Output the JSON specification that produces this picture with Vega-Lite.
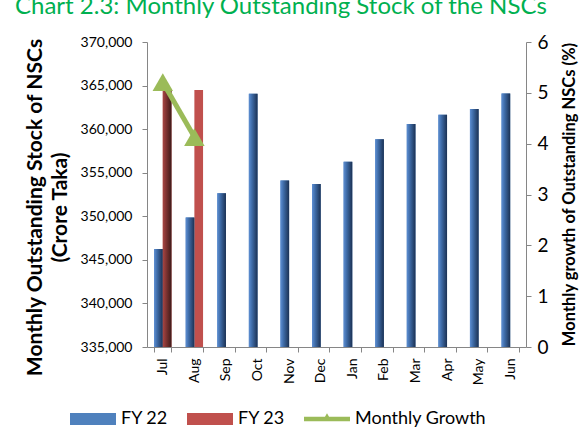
{
  "$schema": "https://vega.github.io/schema/vega-lite/v6.json",
  "width": 379,
  "height": 305,
  "autosize": {"type": "none"},
  "padding": {"left": 147, "top": 42, "right": 57, "bottom": 95},
  "background": "white",
  "config": {
    "font": "Lato",
    "view": {"stroke": null},
    "axis": {"domainColor": "#868686", "tickColor": "#868686", "labelColor": "#000000", "titleColor": "#000000", "grid": false}
  },
  "title": {
    "text": "Chart 2.3: Monthly Outstanding Stock of the NSCs",
    "color": "#00B050",
    "fontSize": 24,
    "fontWeight": "normal",
    "anchor": "start",
    "frame": "group",
    "dx": -132,
    "offset": -5,
    "baseline": "alphabetic"
  },
  "datasets": {
    "stock": [
      {"month": "Jul", "series": "FY 22", "value": 346250},
      {"month": "Aug", "series": "FY 22", "value": 349850},
      {"month": "Sep", "series": "FY 22", "value": 352650},
      {"month": "Oct", "series": "FY 22", "value": 364050},
      {"month": "Nov", "series": "FY 22", "value": 354100},
      {"month": "Dec", "series": "FY 22", "value": 353700},
      {"month": "Jan", "series": "FY 22", "value": 356250},
      {"month": "Feb", "series": "FY 22", "value": 358850},
      {"month": "Mar", "series": "FY 22", "value": 360600},
      {"month": "Apr", "series": "FY 22", "value": 361650},
      {"month": "May", "series": "FY 22", "value": 362300},
      {"month": "Jun", "series": "FY 22", "value": 364100},
      {"month": "Jul", "series": "FY 23", "value": 364600},
      {"month": "Aug", "series": "FY 23", "value": 364500}
    ],
    "growth": [
      {"month": "Jul", "growth": 5.21},
      {"month": "Aug", "growth": 4.13}
    ]
  },
  "layer": [
    {
      "data": {"name": "stock"},
      "encoding": {
        "x": {
          "field": "month", "type": "nominal",
          "sort": ["Jul","Aug","Sep","Oct","Nov","Dec","Jan","Feb","Mar","Apr","May","Jun"],
          "scale": {"paddingInner": 0.45, "paddingOuter": 0.225},
          "axis": {"title": null, "labelAngle": -90, "labelFontSize": 14, "tickBand": "extent", "tickSize": 5, "labelPadding": 6}
        },
        "xOffset": {"field": "series", "type": "nominal", "scale": {"domain": ["FY 22", "FY 23"], "paddingInner": 0, "paddingOuter": 0}},
        "y": {
          "field": "value", "type": "quantitative",
          "scale": {"domain": [335000, 370000], "zero": false, "nice": false},
          "axis": {
            "orient": "left",
            "values": [335000, 340000, 345000, 350000, 355000, 360000, 365000, 370000],
            "format": ",d",
            "title": ["Monthly Outstanding Stock  of NSCs", "(Crore Taka)"],
            "titleFontSize": 21, "titleFontWeight": "bold", "titlePadding": 10, "titleLineHeight": 25,
            "titleY": 165,
            "labelFontSize": 14, "tickSize": 5, "labelPadding": 10
          }
        },
        "y2": {"datum": 335000}
      },
      "layer": [
        {
          "mark": {"type": "bar"},
          "encoding": {
            "color": {
              "field": "series", "type": "nominal",
              "scale": {"domain": ["FY 22", "FY 23", "Monthly Growth"], "range": ["#4F81BD", "#C0504D", "#9BBB59"]},
              "legend": {
                "title": null,
                "orient": "none",
                "legendX": -77,
                "legendY": 354,
                "direction": "horizontal",
                "symbolSize": 2116,
                "symbolStrokeWidth": 0,
                "symbolOpacity": 1,
                "labelFontSize": 18,
                "labelColor": "#000000",
                "labelOffset": 5,
                "columnPadding": 19,
                "padding": 0,
                "encode": {
                  "symbols": {
                    "update": {
                      "shape": {"signal": "datum.value === 'Monthly Growth' ? 'M-1,-0.1H1V0.1H-1Z M-0.2,0.1L0,-0.25L0.2,0.1Z' : 'M-1,-0.26H1V0.26H-1Z'"}
                    }
                  }
                }
              }
            }
          }
        },
        {
          "transform": [{"filter": "datum.series === 'FY 22'"}],
          "mark": {
            "type": "bar",
            "color": {"gradient": "linear", "x1": 0, "x2": 1, "y1": 0, "y2": 0,
              "stops": [{"offset": 0, "color": "#5E8FD3"}, {"offset": 0.35, "color": "#3F6CA8"}, {"offset": 1, "color": "#1B3153"}]}
          }
        },
        {
          "transform": [{"filter": "datum.series === 'FY 23' && datum.month === 'Jul'"}],
          "mark": {
            "type": "bar",
            "color": {"gradient": "linear", "x1": 0, "x2": 1, "y1": 0, "y2": 0,
              "stops": [{"offset": 0, "color": "#A84644"}, {"offset": 0.4, "color": "#7E3331"}, {"offset": 1, "color": "#3D1A19"}]}
          }
        }
      ]
    },
    {
      "data": {"name": "growth"},
      "encoding": {
        "x": {
          "field": "month", "type": "nominal",
          "sort": ["Jul","Aug","Sep","Oct","Nov","Dec","Jan","Feb","Mar","Apr","May","Jun"]
        },
        "y": {
          "field": "growth", "type": "quantitative",
          "scale": {"domain": [0, 6], "nice": false},
          "axis": {
            "orient": "right",
            "values": [0, 1, 2, 3, 4, 5, 6],
            "title": "Monthly growth of Outstanding NSCs (%)",
            "titleAngle": -90,
            "titleFontSize": 16.5, "titleFontWeight": "bold", "titlePadding": 29,
            "titleY": 152,
            "labelFontSize": 19, "tickSize": 5, "labelPadding": 6
          }
        }
      },
      "layer": [
        {"mark": {"type": "line", "color": "#9BBB59", "strokeWidth": 5}},
        {"mark": {"type": "point", "shape": "triangle-up", "filled": true, "size": 420, "color": "#9BBB59", "opacity": 1}}
      ]
    }
  ],
  "resolve": {"scale": {"y": "independent"}}
}
